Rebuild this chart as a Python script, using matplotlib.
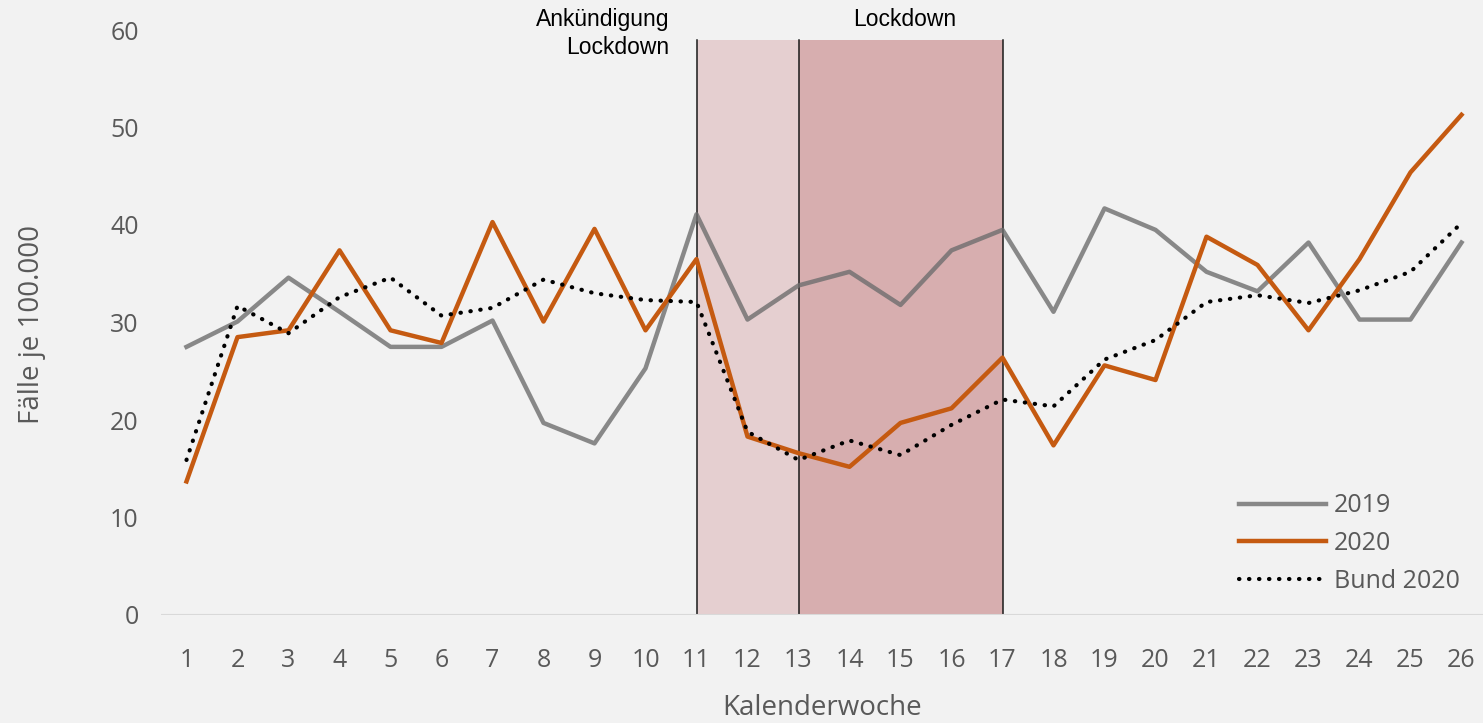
import numpy as np
import matplotlib.pyplot as plt

weeks = np.arange(1, 27)
faelle_2019 = [27.5, 30.1, 34.6, 31.1, 27.5, 27.5, 30.2, 19.7, 17.6, 25.3,
               41.1, 30.3, 33.8, 35.2, 31.8, 37.4, 39.5, 31.1, 41.7, 39.5,
               35.2, 33.2, 38.2, 30.3, 30.3, 38.2]
faelle_2020 = [13.7, 28.5, 29.2, 37.4, 29.2, 27.9, 40.3, 30.1, 39.6, 29.2,
               36.5, 18.3, 16.6, 15.2, 19.7, 21.2, 26.4, 17.4, 25.6, 24.1,
               38.8, 35.9, 29.2, 36.5, 45.4, 51.3]
bund_2020 = [15.9, 31.7, 28.9, 32.6, 34.6, 30.7, 31.5, 34.4, 33.0, 32.3,
             32.1, 18.8, 15.9, 17.9, 16.4, 19.5, 22.1, 21.4, 26.2, 28.2,
             32.1, 32.8, 32.0, 33.3, 35.2, 40.2]
ankuendigung = (11, 13)
lockdown = (13, 17)

bg = '#f2f2f2'
tick_col = '#595959'
W, H = 1483, 723

fig = plt.figure(figsize=(W / 100, H / 100), dpi=100, facecolor=bg)
ax = fig.add_axes([161 / W, (H - 615) / H, 1 - 161 / W, (615 - 30) / H])
ax.set_facecolor(bg)

# shaded periods
ax.axvspan(*ankuendigung, ymax=59 / 60, color='#e5cfd0', lw=0, zorder=0)
ax.axvspan(*lockdown, ymax=59 / 60, color='#d7aeaf', lw=0, zorder=0)
for xv in (ankuendigung[0], lockdown[0], lockdown[1]):
    ax.plot([xv, xv], [0, 59], color='#1a1a1a', lw=1.1, zorder=1)

ax.axhline(0, color='#d9d9d9', lw=1.5, zorder=1)

ax.plot(weeks, faelle_2019, color='#6e6e6e', alpha=0.8, lw=3.2,
        label='2019', zorder=3)
ax.plot(weeks, faelle_2020, color='#c55a11', lw=3.2, label='2020', zorder=4)
ax.plot(weeks, bund_2020, color='black', lw=3, linestyle=(0, (0.1, 2.3)),
        dash_capstyle='round', label='Bund 2020', zorder=5)

ax.set_xlim(0.5, 0.5 + (W - 161) / 51)
ax.set_ylim(0, 60)
ax.set_xticks(weeks)
ax.set_yticks(np.arange(0, 61, 10))
for s in ax.spines.values():
    s.set_visible(False)
ax.tick_params(length=0, labelsize=18, labelcolor=tick_col)
ax.tick_params(axis='x', pad=24)
ax.tick_params(axis='y', pad=16)
for lab in ax.get_xticklabels() + ax.get_yticklabels():
    lab.set_fontfamily('Open Sans')

fig.text(822 / W, 1 - 708 / H, 'Kalenderwoche', ha='center', va='center',
         fontsize=20, color=tick_col, family='Open Sans')
fig.text(32 / W, 1 - 325 / H, 'Fälle je 100.000', ha='center', va='center',
         rotation=90, fontsize=20, color=tick_col, family='Open Sans')

fig.text(669 / W, 1 - 8 / H, 'Ankündigung\nLockdown', ha='right', va='top',
         fontsize=16.5, family='Liberation Sans', linespacing=1.3)
fig.text(905 / W, 1 - 8 / H, 'Lockdown', ha='center', va='top',
         fontsize=16.5, family='Liberation Sans')

leg = ax.legend(loc='upper left', bbox_to_anchor=(1226 / W, 1 - 481 / H),
                bbox_transform=fig.transFigure, frameon=False, borderpad=0,
                handlelength=3.5, handletextpad=0.3, labelspacing=0.5,
                prop={'family': 'Open Sans', 'size': 18})
for t in leg.get_texts():
    t.set_color(tick_col)

fig.savefig('out.png', dpi=100, facecolor=bg)
